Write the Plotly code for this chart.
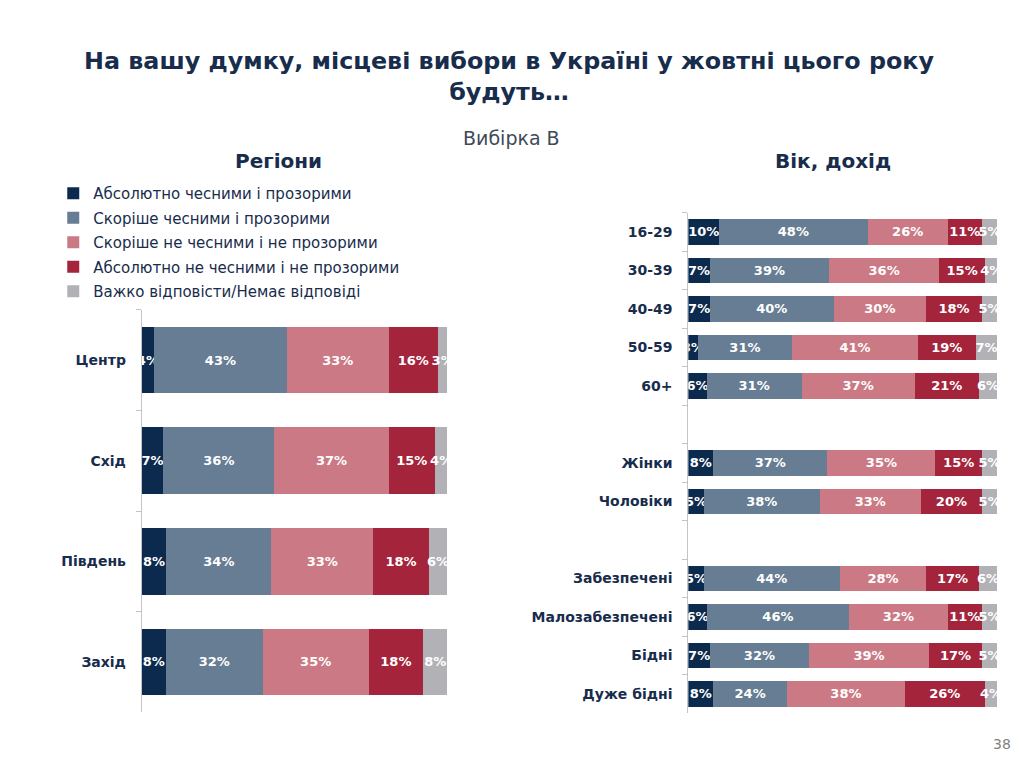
import plotly.graph_objects as go

# ---- data ----
series_names = [
    "Абсолютно чесними і прозорими",
    "Скоріше чесними і прозорими",
    "Скоріше не чесними і не прозорими",
    "Абсолютно не чесними і не прозорими",
    "Важко відповісти/Немає відповіді",
]
series_colors = ["#0c2a4d", "#667d93", "#cb7a85", "#a3243b", "#b2b1b6"]

regions = ["Центр", "Схід", "Південь", "Захід"]
regions_values = [
    [4, 7, 8, 8],
    [43, 36, 34, 32],
    [33, 37, 33, 35],
    [16, 15, 18, 18],
    [3, 4, 6, 8],
]

groups = ["16-29", "30-39", "40-49", "50-59", "60+", " ",
          "Жінки", "Чоловіки", "  ",
          "Забезпечені", "Малозабезпечені", "Бідні", "Дуже бідні"]
groups_values = [
    [10, 7, 7, 3, 6, None, 8, 5, None, 5, 6, 7, 8],
    [48, 39, 40, 31, 31, None, 37, 38, None, 44, 46, 32, 24],
    [26, 36, 30, 41, 37, None, 35, 33, None, 28, 32, 39, 38],
    [11, 15, 18, 19, 21, None, 15, 20, None, 17, 11, 17, 26],
    [5, 4, 5, 7, 6, None, 5, 5, None, 6, 5, 5, 4],
]

FONT = "DejaVu Sans"
NAVY = "#182c4c"

fig = go.Figure()


def add_bars(cats, vals, xa, ya, show):
    for i, name in enumerate(series_names):
        fig.add_trace(go.Bar(
            name=name, orientation="h", y=cats, x=vals[i],
            text=[f"{v}%" if v is not None else None for v in vals[i]],
            textposition="inside", insidetextanchor="middle",
            textangle=0, constraintext="none",
            textfont=dict(family=FONT, size=13, color="white", weight="bold"),
            marker=dict(color=series_colors[i], line=dict(width=0)),
            xaxis=xa, yaxis=ya, showlegend=show, legendgroup=f"g{i}",
            hoverinfo="skip",
        ))


add_bars(regions, regions_values, "x", "y", True)
add_bars(groups, groups_values, "x2", "y2", False)

axis_common = dict(showgrid=False, zeroline=False, showticklabels=False,
                   range=[0, 100], fixedrange=True)
ycommon = dict(type="category", autorange="reversed", showline=True,
               linecolor="#c4c4c4", linewidth=1, ticks="outside",
               tickson="boundaries", ticklen=5, tickcolor="#c4c4c4",
               ticklabelstandoff=12, categoryorder="array", fixedrange=True,
               tickfont=dict(family=FONT, size=14, color=NAVY, weight="bold"))

fig.update_layout(
    width=1024, height=768,
    margin=dict(l=0, r=0, t=0, b=0),
    paper_bgcolor="white", plot_bgcolor="white",
    barmode="stack", barnorm="percent",
    font=dict(family=FONT, color=NAVY),
    xaxis=dict(domain=[0.1384, 0.4368], anchor="y", **axis_common),
    yaxis=dict(domain=[0.0725, 0.5967], anchor="x", categoryarray=regions, **ycommon),
    xaxis2=dict(domain=[0.6722, 0.9739], anchor="y2", **axis_common),
    yaxis2=dict(domain=[0.0713, 0.723], anchor="x2", categoryarray=groups, **ycommon),
    bargap=0.34,
    legend=dict(x=0.052, y=1 - 177 / 768, xanchor="left", yanchor="top",
                font=dict(family=FONT, size=15, color=NAVY),
                tracegroupgap=2, bgcolor="rgba(0,0,0,0)"),
    annotations=[
        dict(text="На вашу думку, місцеві вибори в Україні у жовтні цього року<br>будуть…",
             x=0.497, y=1 - 45 / 768, xref="paper", yref="paper",
             xanchor="center", yanchor="top", showarrow=False,
             font=dict(family=FONT, size=23.8, color=NAVY, weight="bold")),
        dict(text="Вибірка В", x=511 / 1024, y=1 - 138 / 768, xref="paper", yref="paper",
             xanchor="center", yanchor="middle", showarrow=False,
             font=dict(family=FONT, size=19, color="#404a58")),
        dict(text="Регіони", x=278 / 1024, y=1 - 161 / 768, xref="paper", yref="paper",
             xanchor="center", yanchor="middle", showarrow=False,
             font=dict(family=FONT, size=20, color=NAVY, weight="bold")),
        dict(text="Вік, дохід", x=833 / 1024, y=1 - 161 / 768, xref="paper", yref="paper",
             xanchor="center", yanchor="middle", showarrow=False,
             font=dict(family=FONT, size=20, color=NAVY, weight="bold")),
        dict(text="38", x=1002 / 1024, y=1 - 744 / 768, xref="paper", yref="paper",
             xanchor="center", yanchor="middle", showarrow=False,
             font=dict(family=FONT, size=14, color="#7f7f7f")),
    ],
)

fig.write_html("out.html", config={"displayModeBar": False},
               post_script="document.body.style.margin='0';")
